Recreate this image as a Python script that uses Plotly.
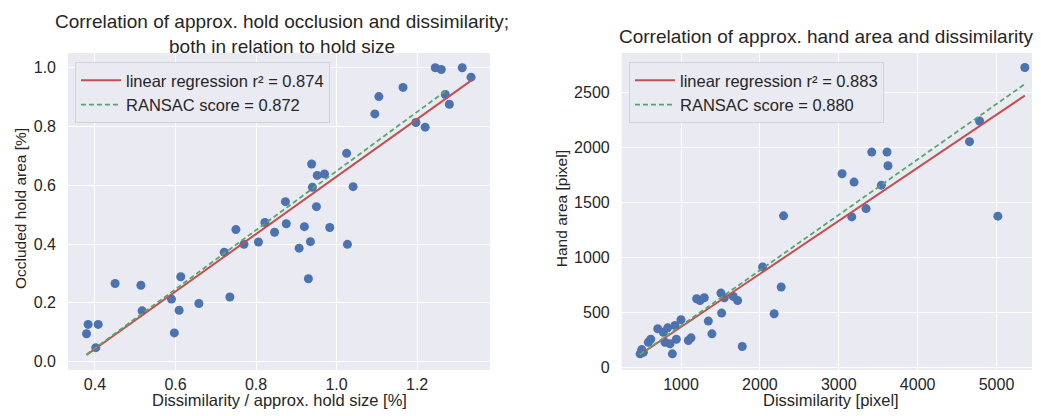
import plotly.graph_objects as go

# ---------------- data ----------------
occ_x = [0.379, 0.383, 0.408, 0.402, 0.450, 0.514, 0.517, 0.590, 0.597, 0.609,
         0.613, 0.658, 0.721, 0.735, 0.750, 0.770, 0.806, 0.822, 0.846, 0.873,
         0.875, 0.907, 0.920, 0.930, 0.935, 0.938, 0.940, 0.950, 0.952, 0.970,
         0.983, 1.025, 1.027, 1.041, 1.095, 1.105, 1.165, 1.197, 1.220, 1.245,
         1.260, 1.270, 1.280, 1.312, 1.334]
occ_y = [0.095, 0.127, 0.127, 0.048, 0.266, 0.260, 0.173, 0.213, 0.098, 0.175,
         0.289, 0.198, 0.372, 0.220, 0.449, 0.399, 0.407, 0.473, 0.440, 0.544,
         0.469, 0.386, 0.459, 0.282, 0.408, 0.672, 0.593, 0.527, 0.633, 0.638,
         0.456, 0.708, 0.399, 0.595, 0.842, 0.901, 0.932, 0.813, 0.797, 0.999,
         0.993, 0.908, 0.875, 0.999, 0.967]
occ_lin_x = [0.379, 1.334]
occ_lin_y = [0.023, 0.955]
occ_ran_x = [0.379, 1.270]
occ_ran_y = [0.025, 0.919]

hand_x = [481, 502, 523, 586, 616, 705, 776, 797, 831, 861,
          890, 924, 941, 1000, 1093, 1127, 1198, 1241, 1295, 1346,
          1392, 1506, 1515, 1549, 1662, 1717, 1776, 2034, 2181, 2270,
          2300, 3042, 3165, 3194, 3346, 3418, 3540, 3612, 3624, 4658,
          4785, 5017, 5359]
hand_y = [122, 161, 137, 228, 255, 350, 319, 228, 359, 213,
          122, 380, 255, 432, 243, 268, 623, 608, 633, 420,
          304, 675, 493, 633, 645, 608, 189, 912, 487, 730,
          1378, 1761, 1368, 1685, 1444, 1958, 1657, 1958, 1834, 2053,
          2241, 1375, 2728]
hand_lin_x = [481, 5359]
hand_lin_y = [116, 2472]
hand_ran_x = [481, 5359]
hand_ran_y = [116, 2577]

lbl_lin_1 = "linear regression r² = 0.874"
lbl_ran_1 = "RANSAC score = 0.872"
lbl_lin_2 = "linear regression r² = 0.883"
lbl_ran_2 = "RANSAC score = 0.880"

title_1 = "Correlation of approx. hold occlusion and dissimilarity;<br>both in relation to hold size"
title_2 = "Correlation of approx. hand area and dissimilarity"

xlabel_1 = "Dissimilarity / approx. hold size [%]"
ylabel_1 = "Occluded hold area [%]"
xlabel_2 = "Dissimilarity [pixel]"
ylabel_2 = "Hand area [pixel]"

# ---------------- style ----------------
BLUE = "#4c72b0"
RED = "#c44e52"
GREEN = "#55a868"
BG = "#eaeaf2"
TXT = "#262626"
FONT = "Liberation Sans, Arial, sans-serif"

fig = go.Figure()

fig.add_trace(go.Scatter(x=occ_x, y=occ_y, mode="markers",
                         marker=dict(color=BLUE, size=9), showlegend=False,
                         xaxis="x", yaxis="y"))
fig.add_trace(go.Scatter(x=occ_lin_x, y=occ_lin_y, mode="lines", name=lbl_lin_1,
                         line=dict(color=RED, width=2), xaxis="x", yaxis="y",
                         legend="legend"))
fig.add_trace(go.Scatter(x=occ_ran_x, y=occ_ran_y, mode="lines", name=lbl_ran_1,
                         line=dict(color=GREEN, width=1.8, dash="5px,3px"),
                         xaxis="x", yaxis="y", legend="legend"))

fig.add_trace(go.Scatter(x=hand_x, y=hand_y, mode="markers",
                         marker=dict(color=BLUE, size=9), showlegend=False,
                         xaxis="x2", yaxis="y2"))
fig.add_trace(go.Scatter(x=hand_lin_x, y=hand_lin_y, mode="lines", name=lbl_lin_2,
                         line=dict(color=RED, width=2), xaxis="x2", yaxis="y2",
                         legend="legend2"))
fig.add_trace(go.Scatter(x=hand_ran_x, y=hand_ran_y, mode="lines", name=lbl_ran_2,
                         line=dict(color=GREEN, width=1.8, dash="5px,3px"),
                         xaxis="x2", yaxis="y2", legend="legend2"))

axis_common = dict(showgrid=True, gridcolor="white", gridwidth=1.3, zeroline=False,
                   showline=False, ticks="", tickfont=dict(size=16, color=TXT, family=FONT),
                   automargin=False)

# page body adds an 8px offset; layout is expressed in the shifted frame
W, H = 1033, 408
L, R, T, B = 60, 9, 45, 46
plot_w = W - L - R
plot_h = H - T - B
d1 = [0, (490 - 68) / plot_w]
d2 = [(621.7 - 68) / plot_w, 1.0]

leg_common = dict(xanchor="left", yanchor="top", bgcolor=BG, bordercolor="#d2d2da",
                  borderwidth=1, font=dict(size=16.5, color=TXT), tracegroupgap=0,
                  itemwidth=40)

ann_font = dict(size=16.5, color=TXT, family=FONT)
title_font = dict(size=19, color=TXT, family=FONT)

fig.update_layout(
    width=W, height=H,
    margin=dict(l=L, r=R, t=T, b=B),
    paper_bgcolor="white", plot_bgcolor=BG,
    font=dict(family=FONT, color=TXT, size=16),
    xaxis=dict(domain=d1, range=[0.333, 1.381], tickvals=[0.4, 0.6, 0.8, 1.0, 1.2],
               ticktext=["0.4", "0.6", "0.8", "1.0", "1.2"], ticklabelstandoff=3,
               anchor="y", **axis_common),
    yaxis=dict(domain=[0, 1], range=[-0.028, 1.049], tickvals=[0, 0.2, 0.4, 0.6, 0.8, 1.0],
               ticktext=["0.0", "0.2", "0.4", "0.6", "0.8", "1.0"], ticklabelstandoff=11,
               anchor="x", **axis_common),
    xaxis2=dict(domain=d2, range=[248, 5450], tickvals=[1000, 2000, 3000, 4000, 5000],
                ticklabelstandoff=3, anchor="y2", **axis_common),
    yaxis2=dict(domain=[0, 1], range=[-25, 2860], tickvals=[0, 500, 1000, 1500, 2000, 2500],
                ticklabelstandoff=11, anchor="x2", **axis_common),
    legend=dict(x=(75 - 68) / plot_w, y=1 - (62 - 53) / plot_h, **leg_common),
    legend2=dict(x=(629 - 68) / plot_w, y=1 - (62 - 53) / plot_h, **leg_common),
    annotations=[
        dict(text=title_1, xref="x domain", yref="paper", x=0.5, y=1, xshift=3, yshift=19.5,
             xanchor="center", yanchor="middle", showarrow=False, font=title_font),
        dict(text=title_2, xref="x2 domain", yref="paper", x=0.5, y=1, xshift=-1, yshift=16.8,
             xanchor="center", yanchor="middle", showarrow=False, font=title_font),
        dict(text=xlabel_1, xref="x domain", yref="paper", x=0.5, y=0, yshift=-29.5,
             xanchor="center", yanchor="middle", showarrow=False, font=ann_font),
        dict(text=xlabel_2, xref="x2 domain", yref="paper", x=0.5, y=0, xshift=4, yshift=-29.5,
             xanchor="center", yanchor="middle", showarrow=False, font=ann_font),
        dict(text=ylabel_1, xref="x domain", yref="paper", x=0, y=0.5, xshift=-47.5, yshift=3,
             textangle=-90, xanchor="center", yanchor="middle", showarrow=False,
             font=dict(size=15.5, color=TXT, family=FONT)),
        dict(text=ylabel_2, xref="x2 domain", yref="paper", x=0, y=0.5, xshift=-60, yshift=3,
             textangle=-90, xanchor="center", yanchor="middle", showarrow=False,
             font=dict(size=15.5, color=TXT, family=FONT)),
    ],
)

fig.write_html("out.html")
